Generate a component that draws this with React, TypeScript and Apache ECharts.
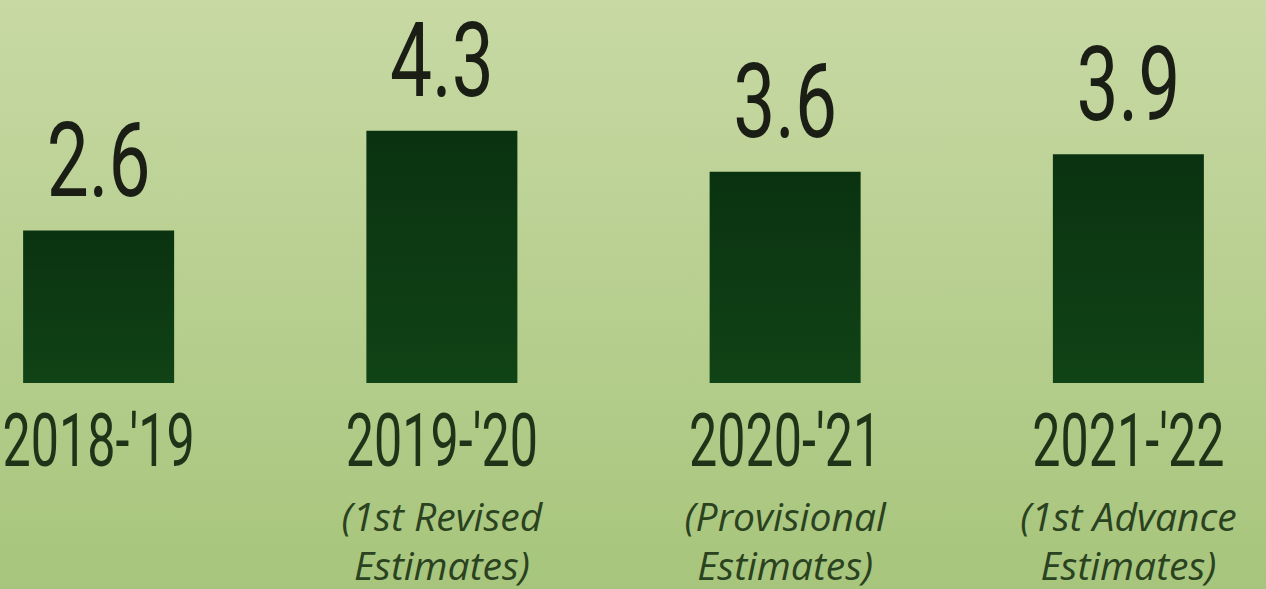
import React, { useEffect, useRef } from "react";
import * as echarts from "echarts";

const years = ["2018-'19", "2019-'20", "2020-'21", "2021-'22"];
const notesLine1 = ["", "(1st Revised", "(Provisional", "(1st Advance"];
const notesLine2 = ["", "Estimates)", "Estimates)", "Estimates)"];
const values = [2.6, 4.3, 3.6, 3.9];

const CONDENSED = "Roboto, 'Liberation Sans', sans-serif";
const ITALIC = "'Open Sans', 'Noto Sans', sans-serif";

export default function App() {
  const ref = useRef<HTMLDivElement>(null);
  useEffect(() => {
    if (!ref.current) return;
    const chart = echarts.init(ref.current, undefined, { renderer: "svg" });
    chart.setOption({
      animation: false,
      backgroundColor: new echarts.graphic.LinearGradient(0, 0, 0, 1, [
        { offset: 0, color: "#c8d9a4" },
        { offset: 1, color: "#a7c57c" },
      ]),
      grid: { left: 0, width: 1373, top: 31, bottom: 206, containLabel: false },
      xAxis: {
        type: "category",
        data: years,
        axisLine: { show: false },
        axisTick: { show: false },
        axisLabel: { show: false },
      },
      yAxis: {
        type: "value",
        min: 0,
        max: 6,
        show: false,
        splitLine: { show: false },
      },
      series: [
        {
          type: "bar",
          barWidth: 151,
          data: values,
          itemStyle: {
            color: new echarts.graphic.LinearGradient(0, 0, 0, 1, [
              { offset: 0, color: "#0a3210" },
              { offset: 1, color: "#104316" },
            ]),
          },
          label: { show: false },
        },
      ],
    });

    const zeroY = chart.convertToPixel({ yAxisIndex: 0 }, 0) as number;
    const graphics: any[] = [];
    years.forEach((y, i) => {
      const cx = chart.convertToPixel({ xAxisIndex: 0 }, i) as number;
      const topY = chart.convertToPixel({ yAxisIndex: 0 }, values[i]) as number;
      graphics.push({
        type: "text",
        x: cx,
        y: topY - 70,
        scaleX: 0.72,
        style: {
          text: values[i].toFixed(1),
          fontFamily: CONDENSED,
          fontSize: 104,
          fill: "#1a1e15",
          align: "center",
          verticalAlign: "middle",
        },
      });
      graphics.push({
        type: "text",
        x: cx,
        y: zeroY + 58,
        scaleX: 0.67,
        style: {
          text: y,
          fontFamily: CONDENSED,
          fontSize: 75,
          lineHeight: 70,
          fill: "#1f3318",
          align: "center",
          verticalAlign: "middle",
        },
      });
      if (notesLine1[i]) {
        const noteStyle = {
          fontFamily: ITALIC,
          fontStyle: "italic",
          fontSize: 39,
          lineHeight: 42,
          fill: "#2a421f",
          align: "center",
          verticalAlign: "middle",
        };
        graphics.push({
          type: "text",
          x: cx,
          y: zeroY + 132,
          style: { ...noteStyle, text: notesLine1[i] },
        });
        graphics.push({
          type: "text",
          x: cx,
          y: zeroY + 181,
          style: { ...noteStyle, text: notesLine2[i] },
        });
      }
    });
    chart.setOption({ graphic: graphics });
    return () => chart.dispose();
  }, []);
  return (
    <div
      ref={ref}
      style={{ position: "fixed", left: -73, top: 0, width: 1412, height: 589 }}
    />
  );
}
